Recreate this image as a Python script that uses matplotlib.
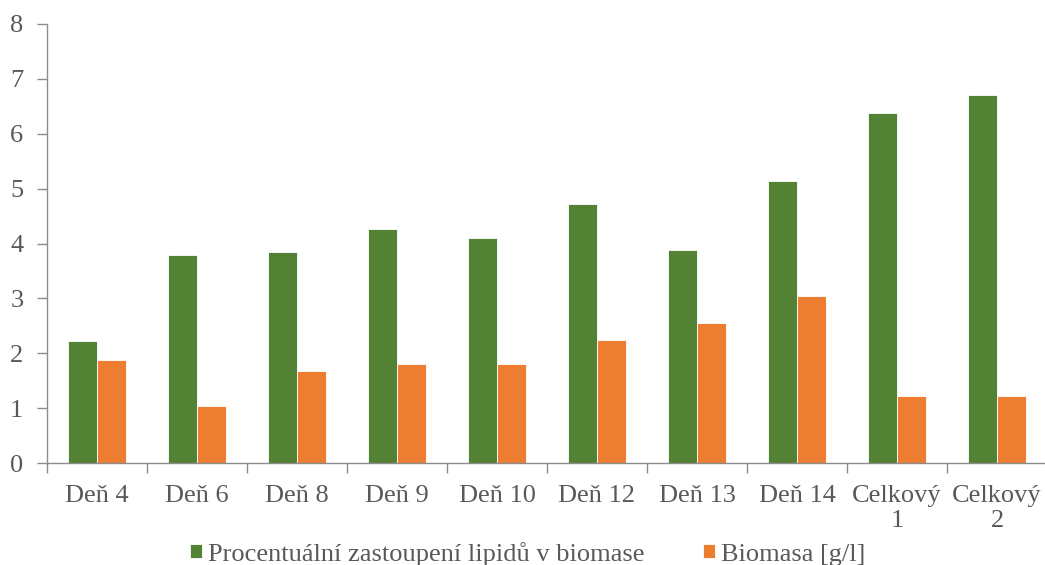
import matplotlib.pyplot as plt
import numpy as np

categories = ["Deň 4", "Deň 6", "Deň 8", "Deň 9", "Deň 10", "Deň 12",
              "Deň 13", "Deň 14", "Celkový\n1", "Celkový\n2"]
lipids = [2.22, 3.79, 3.85, 4.26, 4.10, 4.72, 3.88, 5.14, 6.38, 6.71]
biomass = [1.87, 1.04, 1.68, 1.80, 1.80, 2.24, 2.55, 3.04, 1.22, 1.22]
series_names = ["Procentuální zastoupení lipidů v biomase", "Biomasa [g/l]"]

GREEN = "#548235"
ORANGE = "#ED7D31"
TEXT = "#595959"
AXIS = "#8C8C8C"
FS = 19

plt.rcParams["font.family"] = ["Liberation Serif", "DejaVu Serif"]

fig = plt.figure(figsize=(10.45, 5.65), dpi=100)
ax = fig.add_axes([47 / 1045, 102 / 565, 1000 / 1045, 439 / 565])

x = np.arange(len(categories))
w = 0.29
b1 = ax.bar(x - w / 2, lipids, w, color=GREEN, edgecolor="white", linewidth=0.6,
            label=series_names[0])
b2 = ax.bar(x + w / 2, biomass, w, color=ORANGE, edgecolor="white", linewidth=0.6,
            label=series_names[1])

ax.set_xlim(-0.5, len(categories) - 0.5)
ax.set_ylim(0, 8)
ax.set_yticks(range(0, 9))

# labels at category centres, tick marks on category boundaries
ax.set_xticks(x)
ax.set_xticklabels(categories, linespacing=1.15)
ax.set_xticks(np.arange(-0.5, len(categories), 1), minor=True)
ax.tick_params(axis="x", which="major", length=0, pad=16, labelsize=FS, colors=TEXT)
ax.tick_params(axis="x", which="minor", length=7, width=1, color=AXIS, direction="out")
ax.tick_params(axis="y", length=7, width=1, color=AXIS, labelsize=FS,
               labelcolor=TEXT, pad=10)

for s in ["top", "right"]:
    ax.spines[s].set_visible(False)
for s in ["left", "bottom"]:
    ax.spines[s].set_color(AXIS)
    ax.spines[s].set_linewidth(1)

leg = fig.legend(handles=[b1, b2], loc="center", bbox_to_anchor=(0.505, 0.02),
                 ncol=2, frameon=False, fontsize=FS, handlelength=0.45,
                 handleheight=0.45, handletextpad=0.25, columnspacing=2.2,
                 borderpad=0)
for t in leg.get_texts():
    t.set_color(TEXT)

fig.savefig("out.png", dpi=100)
